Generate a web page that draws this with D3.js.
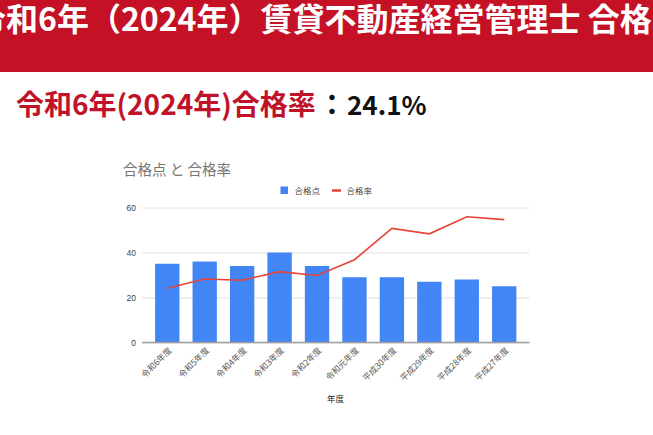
<!DOCTYPE html>
<html>
<head>
<meta charset="utf-8">
<script src="https://cdn.jsdelivr.net/npm/d3@7"></script>
<style>
  html, body { margin: 0; padding: 0; background: #fff; overflow: hidden; }
  svg { display: block; font-family: "Noto Sans CJK JP", "Noto Sans", sans-serif; }
</style>
</head>
<body>
<svg id="page"></svg>
<script>
const W = 653, H = 435;

// data
const categories = ["令和6年度", "令和5年度", "令和4年度", "令和3年度", "令和2年度",
  "令和元年度", "平成30年度", "平成29年度", "平成28年度", "平成27年度"];
const passScores = [35, 36, 34, 40, 34, 29, 29, 27, 28, 25];
const passRates = [24.1, 28.2, 27.7, 31.5, 29.8, 36.8, 50.7, 48.3, 55.9, 54.6];
const yTicks = [0, 20, 40, 60];
const seriesNames = ["合格点", "合格率"];

const svg = d3.select("#page").attr("width", W).attr("height", H);

// red header band
svg.append("rect")
  .attr("x", 0).attr("y", 0)
  .attr("width", W).attr("height", 72)
  .attr("fill", "#c41126");

svg.append("text")
  .attr("x", -26).attr("y", 31)
  .attr("fill", "#fff")
  .attr("font-size", 32)
  .attr("font-weight", "bold")
  .text("令和6年（2024年）賃貸不動産経営管理士 合格率");

// subtitle
const sub = svg.append("text")
  .attr("y", 115)
  .attr("font-weight", "bold");
sub.append("tspan").attr("x", 16).attr("font-size", 28).attr("fill", "#c0132a")
  .text("令和6年(2024年)合格率");
sub.append("tspan").attr("x", 318).attr("font-size", 28).attr("fill", "#111").text("：");
sub.append("tspan").attr("x", 347).attr("font-size", 26).attr("fill", "#111").text("24.1%");

// chart
const x = d3.scaleBand()
  .domain(categories)
  .range([142, 529.5])
  .padding(0.35);

const y = d3.scaleLinear()
  .domain([0, 60])
  .range([342.5, 207.5]);

// title
svg.append("text")
  .attr("x", 123).attr("y", 175)
  .attr("font-size", 14.5)
  .attr("fill", "#757575")
  .text("合格点 と 合格率");

// legend
const legend = svg.append("g").attr("font-size", 8.5).attr("fill", "#444");
legend.append("rect")
  .attr("x", 280.5).attr("y", 186.5)
  .attr("width", 7.5).attr("height", 7.5)
  .attr("fill", "#4285f4");
legend.append("text").attr("x", 294.5).attr("y", 193.5).text(seriesNames[0]);
legend.append("line")
  .attr("x1", 332).attr("x2", 341)
  .attr("y1", 190.5).attr("y2", 190.5)
  .attr("stroke", "#ea4335").attr("stroke-width", 2.5);
legend.append("text").attr("x", 346.5).attr("y", 193.5).text(seriesNames[1]);

// gridlines + y labels
const yAxis = d3.axisLeft(y)
  .tickValues(yTicks)
  .tickSize(-(x.range()[1] - x.range()[0]))
  .tickPadding(6);

const gy = svg.append("g")
  .attr("transform", `translate(${x.range()[0]},0)`)
  .call(yAxis);
gy.select(".domain").remove();
gy.selectAll(".tick line").attr("stroke", "#e0e0e0");
gy.selectAll(".tick text")
  .attr("font-size", 8.5)
  .attr("fill", "#444")
  .attr("font-family", "Liberation Sans, Arial, sans-serif");

// bars
svg.append("g")
  .selectAll("rect")
  .data(passScores)
  .join("rect")
  .attr("x", (d, i) => x(categories[i]))
  .attr("y", d => y(d))
  .attr("width", x.bandwidth())
  .attr("height", d => y(0) - y(d))
  .attr("fill", "#4285f4");

// baseline
svg.append("line")
  .attr("x1", x.range()[0]).attr("x2", x.range()[1])
  .attr("y1", y(0)).attr("y2", y(0))
  .attr("stroke", "#9e9e9e").attr("stroke-width", 1.5);

// rate line
const line = d3.line()
  .x((d, i) => x(categories[i]) + x.bandwidth() / 2)
  .y(d => y(d));

svg.append("path")
  .datum(passRates)
  .attr("d", line)
  .attr("fill", "none")
  .attr("stroke", "#ea4335")
  .attr("stroke-width", 1.6);

// x labels, rotated
svg.append("g")
  .selectAll("text")
  .data(categories)
  .join("text")
  .attr("transform", d => `translate(${x(d) + x.bandwidth() / 2 + 5},351) rotate(-45)`)
  .attr("text-anchor", "end")
  .attr("font-size", 8.5)
  .attr("fill", "#555")
  .text(d => d);

// x axis title
svg.append("text")
  .attr("x", 335.5).attr("y", 402)
  .attr("text-anchor", "middle")
  .attr("font-size", 8.5)
  .attr("fill", "#222")
  .text("年度");
</script>
</body>
</html>
